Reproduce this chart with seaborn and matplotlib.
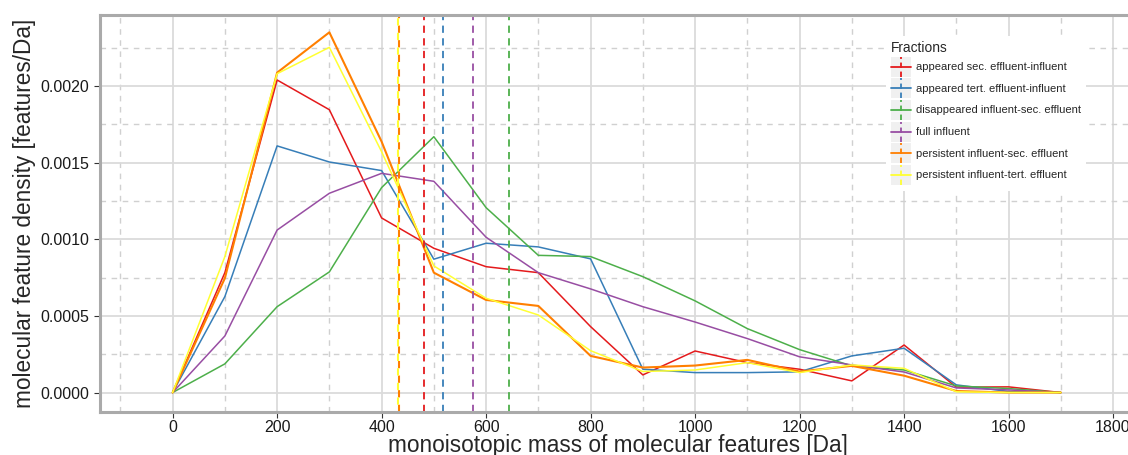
import numpy as np
import pandas as pd
import matplotlib
matplotlib.use('Agg')
import matplotlib.pyplot as plt
import seaborn as sns
from matplotlib.legend_handler import HandlerBase
from matplotlib.patches import Rectangle
from matplotlib.lines import Line2D
from matplotlib.ticker import MultipleLocator, FormatStrFormatter

# 数据：每100 Da一个点
mass = list(range(0, 1800, 100))
fractions = ['appeared sec. effluent-influent', 'appeared tert. effluent-influent',
             'disappeared influent-sec. effluent', 'full influent',
             'persistent influent-sec. effluent', 'persistent influent-tert. effluent']
colors = ['#E41A1C', '#377EB8', '#4DAF4A', '#984EA3', '#FF7F00', '#FFFF33']

app_sec = [0, 0.000782, 0.002039, 0.001845, 0.001139, 0.000941, 0.000821, 0.000782, 0.00043,
           0.000115, 0.000271, 0.000195, 0.000152, 0.000076, 0.00031, 0.000035, 0.000037, 0]
app_tert = [0, 0.000626, 0.001609, 0.001504, 0.001448, 0.00087, 0.000974, 0.00095, 0.000872,
            0.000152, 0.00013, 0.00013, 0.000135, 0.000239, 0.000289, 0.00005, 0.000007, 0]
disapp_sec = [0, 0.000187, 0.00056, 0.000787, 0.001337, 0.001669, 0.001206, 0.000895, 0.000887,
              0.000756, 0.000598, 0.000417, 0.00028, 0.000174, 0.000147, 0.000043, 0.000026, 0]
full_infl = [0, 0.000369, 0.00106, 0.0013, 0.00143, 0.001378, 0.001013, 0.000782, 0.000676,
             0.00056, 0.00046, 0.000352, 0.000233, 0.00018, 0.000134, 0.00003, 0.000017, 0]
pers_sec = [0, 0.000746, 0.002087, 0.00235, 0.001637, 0.000782, 0.000604, 0.000565, 0.000239,
            0.000163, 0.000176, 0.000213, 0.000137, 0.000174, 0.00011, 0.00001, 0, 0]
pers_tert = [0, 0.000887, 0.00208, 0.002252, 0.001571, 0.000826, 0.000615, 0.000506, 0.000273,
             0.000137, 0.000147, 0.000195, 0.00013, 0.00018, 0.000158, 0.000005, 0, 0]

# 各组分平均质量 (竖虚线)
mean_mass = [481, 517, 643, 574, 434, 432]

series = [app_sec, app_tert, disapp_sec, full_infl, pers_sec, pers_tert]
df = pd.concat([pd.DataFrame({'mass': mass, 'density': s, 'Fractions': f})
                for f, s in zip(fractions, series)], ignore_index=True)

sns.set_style('white')
plt.rcParams['font.family'] = ['Liberation Sans', 'DejaVu Sans']

fig = plt.figure(figsize=(11.28, 4.55), dpi=100)
ax = fig.add_axes([100 / 1128, 43 / 455, 1035 / 1128, 397 / 455])

# 网格：主网格实线，次网格虚线
ax.xaxis.set_major_locator(MultipleLocator(200))
ax.xaxis.set_minor_locator(MultipleLocator(100))
ax.yaxis.set_major_locator(MultipleLocator(0.0005))
ax.yaxis.set_minor_locator(MultipleLocator(0.00025))
ax.yaxis.set_major_formatter(FormatStrFormatter('%.4f'))
ax.grid(which='major', color='#DBDBDB', linewidth=1.3, linestyle='-')
ax.grid(which='minor', color='#D0D0D0', linewidth=1.0, linestyle=(0, (4, 4)))
ax.set_axisbelow(True)

sns.lineplot(data=df, x='mass', y='density', hue='Fractions', palette=colors,
             hue_order=fractions, linewidth=1.1, legend=False, ax=ax)
for ln, c in zip(ax.get_lines(), colors):
    if c == '#FF7F00':
        ln.set_linewidth(1.5)

# 竖线：橙色和黄色几乎重合，错开虚线相位
for m, c in zip(mean_mass, colors):
    if c == '#FFFF33':
        ax.axvline(m, color=c, linestyle=(3.5, (3.5, 3.5)), linewidth=1.5)
    elif c == '#FF7F00':
        ax.axvline(m, color=c, linestyle=(0, (3.5, 3.5)), linewidth=1.5)
    else:
        ax.axvline(m, color=c, linestyle=(0, (4, 3)), linewidth=1.3)

ax.set_xlim(-139, 1842)
ax.set_ylim(-0.000127, 0.002463)
for side in ['left', 'bottom', 'top', 'right']:
    ax.spines[side].set_color('#AAAAAA')
    ax.spines[side].set_linewidth(2.2)
ax.tick_params(which='major', direction='out', length=4, width=0.8, color='#333333',
               labelsize=11.5, labelcolor='#1A1A1A', left=True, bottom=True)
ax.tick_params(axis='x', which='major', pad=2)
ax.tick_params(axis='y', which='major', pad=4)
ax.tick_params(which='minor', length=0)
ax.set_xlabel('monoisotopic mass of molecular features [Da]', fontsize=16.3, labelpad=-1)
ax.set_ylabel('molecular feature density [features/Da]', fontsize=16.3, labelpad=3)


class CrossHandler(HandlerBase):
    def create_artists(self, legend, orig, xd, yd, w, h, fs, trans):
        c = orig.get_color()
        bg = Rectangle((-xd, -yd), w, h, facecolor='#F0F0F0', edgecolor='none', transform=trans)
        hl = Line2D([-xd, -xd + w], [-yd + h / 2, -yd + h / 2], color=c, linewidth=1.3, transform=trans)
        vl = Line2D([-xd + w / 2, -xd + w / 2], [-yd, -yd + h], color=c, linewidth=1.3,
                    linestyle=(0, (3, 2)), transform=trans)
        return [bg, hl, vl]


handles = [Line2D([], [], color=c) for c in colors]
leg = fig.legend(handles, fractions, title='Fractions', loc='upper left',
                 bbox_to_anchor=(880 / 1128, 1 - 30 / 455), bbox_transform=fig.transFigure,
                 handler_map={Line2D: CrossHandler()}, fontsize=8, title_fontsize=9.9,
                 handlelength=1.8, handleheight=2.39, handletextpad=0.4, labelspacing=0.15,
                 borderpad=0.5, frameon=True, fancybox=False, alignment='left')
leg.get_frame().set_facecolor('white')
leg.get_frame().set_edgecolor('none')
leg.get_frame().set_alpha(1)

fig.savefig('out.png', dpi=100)
